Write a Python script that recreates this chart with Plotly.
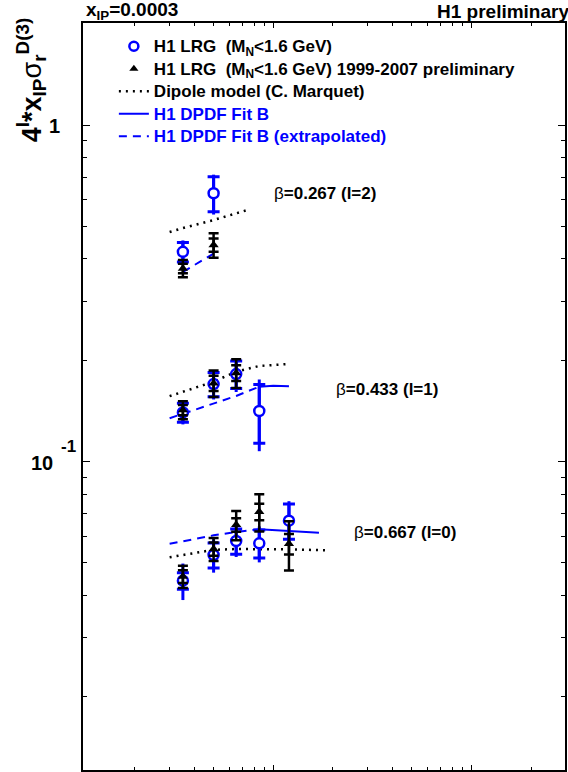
import math
import plotly.graph_objects as go

# ---------------- data ----------------
# beta = 0.267
Q2_LRG_B0267 = [3.5, 5.0]
LRG_B0267 = [0.420, 0.627]
LRG_B0267_STAT = [0.028, 0.075]
LRG_B0267_TOT = [0.034, 0.085]

Q2_PRE_B0267 = [3.5, 5.0]
PRE_B0267 = [0.375, 0.440]
PRE_B0267_STAT = [0.012, 0.020]
PRE_B0267_TOT = [0.022, 0.037]

Q2_DIP_B0267 = [3.0, 3.5, 5.0, 6.5, 7.4]
DIP_B0267 = [0.481, 0.494, 0.522, 0.545, 0.559]
Q2_FITX_B0267 = [3.5, 5.0]
FITX_B0267 = [0.366, 0.415]

# beta = 0.433
Q2_LRG_B0433 = [3.5, 5.0, 6.5, 8.5]
LRG_B0433 = [0.140, 0.170, 0.182, 0.1414]
LRG_B0433_STAT = [0.009, 0.014, 0.017, 0.028]
LRG_B0433_TOT = [0.011, 0.017, 0.021, 0.034]

Q2_PRE_B0433 = [3.5, 5.0, 6.5]
PRE_B0433 = [0.1424, 0.171, 0.1835]
PRE_B0433_STAT = [0.005, 0.009, 0.010]
PRE_B0433_TOT = [0.0087, 0.0155, 0.018]

Q2_DIP_B0433 = [3.0, 3.5, 5.0, 6.5, 8.5, 12.0]
DIP_B0433 = [0.1565, 0.161, 0.1728, 0.185, 0.1924, 0.195]
Q2_FITX_B0433 = [3.0, 3.5, 5.0, 6.5, 8.5]
FITX_B0433 = [0.1346, 0.1388, 0.1488, 0.1567, 0.167]
Q2_FIT_B0433 = [8.5, 10.0, 12.0]
FIT_B0433 = [0.167, 0.168, 0.1675]

# beta = 0.667
Q2_LRG_B0667 = [3.5, 5.0, 6.5, 8.5, 12.0]
LRG_B0667 = [0.0443, 0.0528, 0.0581, 0.0572, 0.0668]
LRG_B0667_STAT = [0.0025, 0.0045, 0.005, 0.0055, 0.008]
LRG_B0667_TOT = [0.0055, 0.006, 0.006, 0.007, 0.0095]

Q2_PRE_B0667 = [3.5, 5.0, 6.5, 8.5, 12.0]
PRE_B0667 = [0.0456, 0.0550, 0.0649, 0.0710, 0.0570]
PRE_B0667_STAT = [0.002, 0.0025, 0.003, 0.004, 0.004]
PRE_B0667_TOT = [0.0035, 0.0043, 0.0065, 0.009, 0.0095]

Q2_DIP_B0667 = [3.0, 3.5, 5.0, 6.5, 8.5, 12.0, 19.0]
DIP_B0667 = [0.0520, 0.0528, 0.0547, 0.0550, 0.0550, 0.0549, 0.0545]
Q2_FITX_B0667 = [3.0, 3.5, 5.0, 6.5, 8.5]
FITX_B0667 = [0.0570, 0.0580, 0.0604, 0.0618, 0.0630]
Q2_FIT_B0667 = [8.5, 12.0, 17.0]
FIT_B0667 = [0.0630, 0.0624, 0.0615]

Y_TICKS = [0.1, 1.0]
Y_TICKTEXT = ["10", "1"]
Y_TICKEXP = ["-1", ""]
X_TICKS = [10, 100]

BETA_LABELS = ["=0.267 (l=2)", "=0.433 (l=1)", "=0.667 (l=0)"]

LEGEND_NAMES = [
    "H1 LRG&nbsp; (M<sub>N</sub>&lt;1.6 GeV)",
    "H1 LRG&nbsp; (M<sub>N</sub>&lt;1.6 GeV) 1999-2007 preliminary",
    "Dipole model (C. Marquet)",
    "<span style='color:#0000ff'>H1 DPDF Fit B</span>",
    "<span style='color:#0000ff'>H1 DPDF Fit B (extrapolated)</span>",
]

BLUE = "#0000ff"
BLACK = "#000000"
FONT = "Liberation Sans"

fig = go.Figure()


def add_curve(x, y, color, dash, width=2.0):
    fig.add_trace(go.Scatter(x=x, y=y, mode="lines",
                             line=dict(color=color, width=width, dash=dash),
                             showlegend=False, hoverinfo="skip"))


def add_points(x, y, stat, tot, color, symbol, size, fill, lw, thick, cap_tot, cap_stat):
    fig.add_trace(go.Scatter(x=x, y=y, mode="markers",
                             marker=dict(size=1, opacity=0),
                             error_y=dict(type="data", array=tot, color=color,
                                          thickness=thick, width=cap_tot),
                             showlegend=False, hoverinfo="skip"))
    fig.add_trace(go.Scatter(x=x, y=y, mode="markers",
                             marker=dict(symbol=symbol, size=size, color=fill,
                                         line=dict(color=color, width=lw)),
                             error_y=dict(type="data", array=stat, color=color,
                                          thickness=thick, width=cap_stat),
                             showlegend=False, hoverinfo="skip"))


DOT = "2px,5px"
DASH = "8px,6px"

# model curves
add_curve(Q2_DIP_B0267, DIP_B0267, BLACK, DOT, 2.5)
add_curve(Q2_DIP_B0433, DIP_B0433, BLACK, DOT, 2.5)
add_curve(Q2_DIP_B0667, DIP_B0667, BLACK, DOT, 2.5)
add_curve(Q2_FITX_B0267, FITX_B0267, BLUE, DASH)
add_curve(Q2_FITX_B0433, FITX_B0433, BLUE, DASH)
add_curve(Q2_FITX_B0667, FITX_B0667, BLUE, DASH)
add_curve(Q2_FIT_B0433, FIT_B0433, BLUE, "solid")
add_curve(Q2_FIT_B0667, FIT_B0667, BLUE, "solid")

# H1 LRG (blue open circles)
for q, v, s, t in [(Q2_LRG_B0267, LRG_B0267, LRG_B0267_STAT, LRG_B0267_TOT),
                   (Q2_LRG_B0433, LRG_B0433, LRG_B0433_STAT, LRG_B0433_TOT),
                   (Q2_LRG_B0667, LRG_B0667, LRG_B0667_STAT, LRG_B0667_TOT)]:
    add_points(q, v, s, t, BLUE, "circle", 10, "white", 2.5, 3, 0, 6)

# H1 LRG 1999-2007 preliminary (black triangles)
for q, v, s, t in [(Q2_PRE_B0267, PRE_B0267, PRE_B0267_STAT, PRE_B0267_TOT),
                   (Q2_PRE_B0433, PRE_B0433, PRE_B0433_STAT, PRE_B0433_TOT),
                   (Q2_PRE_B0667, PRE_B0667, PRE_B0667_STAT, PRE_B0667_TOT)]:
    add_points(q, v, s, t, BLACK, "triangle-up", 9, BLACK, 0, 2.5, 5, 5)

# legend entries
fig.add_trace(go.Scatter(x=[None], y=[None], mode="markers", name=LEGEND_NAMES[0],
                         marker=dict(symbol="circle", size=9, color="white",
                                     line=dict(color=BLUE, width=2.5))))
fig.add_trace(go.Scatter(x=[None], y=[None], mode="markers", name=LEGEND_NAMES[1],
                         marker=dict(symbol="triangle-up", size=8, color=BLACK)))
fig.add_trace(go.Scatter(x=[None], y=[None], mode="lines", name=LEGEND_NAMES[2],
                         line=dict(color=BLACK, width=2.5, dash=DOT)))
fig.add_trace(go.Scatter(x=[None], y=[None], mode="lines", name=LEGEND_NAMES[3],
                         line=dict(color=BLUE, width=2)))
fig.add_trace(go.Scatter(x=[None], y=[None], mode="lines", name=LEGEND_NAMES[4],
                         line=dict(color=BLUE, width=2, dash=DASH)))

# make legend text larger than its row spacing
for tr in fig.data:
    if tr.showlegend is not False and tr.name:
        tr.name = "<span style='font-size:17px'>" + tr.name + "</span>"

W, H = 568, 772
ML, MR, MT, MB = 83, 1, 23, 2
PW, PH = W - ML - MR, H - MT - MB


def px(xp):
    return (xp - ML) / PW


def py(yp):
    return (H - MB - yp) / PH


annotations = []
for label, (lx, ly) in zip(BETA_LABELS, [(273, 194), (335, 389), (353, 532)]):
    annotations.append(dict(xref="paper", yref="paper", x=px(lx), y=py(ly),
                            xanchor="left", yanchor="middle", showarrow=False,
                            text="β<b>" + label + "</b>",
                            font=dict(family=FONT, size=17, color=BLACK)))

# y tick labels placed at the axis values (log axis -> log10 coordinates)
for val, txt, exp, right_px in zip(Y_TICKS, Y_TICKTEXT, Y_TICKEXP, [54.5, 62]):
    annotations.append(dict(xref="paper", yref="y", x=px(right_px), y=math.log10(val),
                            xanchor="right", yanchor="middle", showarrow=False,
                            text="<b>" + txt + "</b>", yshift=-1,
                            font=dict(family=FONT, size=20, color=BLACK)))
    if exp:
        annotations.append(dict(xref="paper", yref="y", x=px(78), y=math.log10(val),
                                xanchor="right", yanchor="middle", showarrow=False,
                                text="<b>" + exp + "</b>", yshift=15,
                                font=dict(family=FONT, size=17, color=BLACK)))

annotations.append(dict(xref="paper", yref="paper", x=px(84), y=py(11),
                        xanchor="left", yanchor="middle", showarrow=False,
                        text="<b>x<sub>IP</sub>=0.0003</b>",
                        font=dict(family=FONT, size=19, color=BLACK)))
annotations.append(dict(xref="paper", yref="paper", x=px(436), y=py(11),
                        xanchor="left", yanchor="middle", showarrow=False,
                        text="<b>H1 preliminary</b>",
                        font=dict(family=FONT, size=19, color=BLACK)))
annotations.append(dict(xref="paper", yref="paper", x=px(31), y=py(16),
                        xanchor="center", yanchor="top", showarrow=False,
                        textangle=-90,
                        text="<b>4<sup>l</sup>*x<sub>IP</sub></b>σ<sub><b>r</b></sub><sup><b>D(3)</b></sup>",
                        font=dict(family=FONT, size=27, color=BLACK)))

fig.update_layout(
    width=W, height=H,
    margin=dict(l=ML, r=MR, t=MT, b=MB, pad=0),
    paper_bgcolor="white", plot_bgcolor="white",
    font=dict(family=FONT, color=BLACK),
    showlegend=True,
    legend=dict(x=px(114), y=py(30), xanchor="left", yanchor="top",
                bgcolor="rgba(0,0,0,0)", borderwidth=0,
                font=dict(family=FONT, size=15, color=BLACK, weight="bold"),
                itemwidth=30, tracegroupgap=0),
    annotations=annotations,
    xaxis=dict(type="log", range=[0.04, 2.472], showline=True, linecolor=BLACK,
               linewidth=1.5, mirror="ticks", ticks="inside", ticklen=5,
               tickcolor=BLACK, tickwidth=1, tickmode="array", tickvals=X_TICKS,
               showticklabels=False, showgrid=False, zeroline=False,
               minor=dict(ticks="inside", ticklen=3, tickcolor=BLACK, dtick="D1",
                          showgrid=False)),
    yaxis=dict(type="log", range=[-1.916, 0.303], showline=True, linecolor=BLACK,
               linewidth=2, mirror="ticks", ticks="inside", ticklen=7,
               tickcolor=BLACK, tickwidth=1, tickmode="array", tickvals=Y_TICKS,
               showticklabels=False,
               showgrid=False, zeroline=False,
               minor=dict(ticks="inside", ticklen=4, tickcolor=BLACK, dtick="D1",
                          showgrid=False)),
)

fig.write_html("out.html", config={"displayModeBar": False},
               post_script="document.body.style.margin='0';")
